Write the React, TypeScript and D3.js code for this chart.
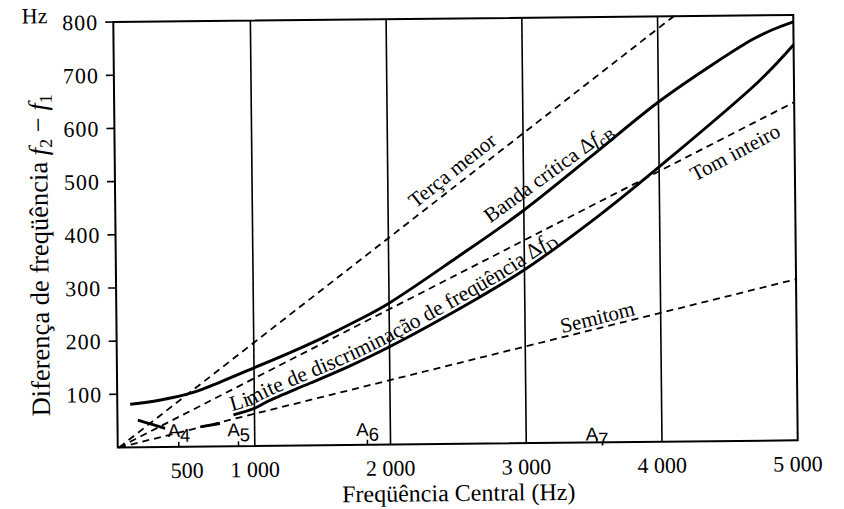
import React from "react";
import * as d3 from "d3";

// values
const yTicks = [100, 200, 300, 400, 500, 600, 700, 800];
const xTickLabels = [500, 1000, 2000, 3000, 4000, 5000];
const gridFreqs = [1000, 2000, 3000, 4000];
const noteFreqs = [440, 880, 1830, 3520];
const noteNumbers = ["4", "5", "6", "7"];

// critical band, solid
const bandaCritica: [number, number][] = [
  [85, 81], [300, 88], [550, 102], [750, 121], [1000, 147], [1250, 173],
  [1500, 201], [1750, 232], [2000, 266], [2500, 350], [3000, 438],
  [3500, 538], [4000, 639], [4400, 708], [4700, 755], [4850, 773], [5000, 787],
];

// discrimination limit, solid, broken around A4 and A5
const discrimA4: [number, number][] = [[140, 51], [240, 43], [340, 35]];
const discrimA5: [number, number][] = [[600, 37], [745, 43]];
const discrim: [number, number][] = [
  [845, 59], [1000, 71], [1100, 84], [1410, 117], [1700, 148], [2000, 184],
  [2670, 276], [3000, 326], [3560, 428], [4000, 517], [4750, 678], [5000, 744],
];

// musical intervals, dashed
const tercaMenor: [number, number][] = [[0, 0], [4120, 800]];
const tomInteiro: [number, number][] = [[0, 0], [5000, 636]];
const semitom: [number, number][] = [[0, 0], [5000, 303]];

const W = 844;
const H = 509;
const left = 115.5;
const right = 795.5;
const top = 18.5;
const bottom = 443.9;
const serif = "'Liberation Serif', 'Times New Roman', serif";
const sans = "'Liberation Sans', Arial, sans-serif";
const noteLift = [10, 10, 9, 2];

const fmt = (v: number) => d3.format(",")(v).replace(",", "\u00a0");

export default function App() {
  const x = d3.scaleLinear().domain([-10, 5000]).range([left, right]);
  const y = d3.scaleLinear().domain([0, 800]).range([bottom, top]);

  const smooth = d3
    .line<[number, number]>()
    .x((d) => x(d[0]))
    .y((d) => y(d[1]))
    .curve(d3.curveCatmullRom.alpha(0.5));
  const straight = d3
    .line<[number, number]>()
    .x((d) => x(d[0]))
    .y((d) => y(d[1]));

  const dashed = { fill: "none", stroke: "#000", strokeWidth: 1.8, strokeDasharray: "7 5" };
  const solid = { fill: "none", stroke: "#000", strokeWidth: 2.9 };

  const labels = [
    { text: "Terça menor", f: 2474, v: 515, angle: -38 },
    { text: "Semitom", f: 3533, v: 236, angle: -13.4 },
    { text: "Tom inteiro", f: 4560, v: 543, angle: -27.4 },
  ];

  return (
    <svg
      width={W}
      height={H}
      style={{ position: "absolute", left: 0, top: 0, background: "#fff" }}
    >
      <g transform="rotate(-0.6, 455.5, 231.2)" fontFamily={serif} fill="#000">
        {/* frame and grid */}
        <rect
          x={left}
          y={top}
          width={right - left}
          height={bottom - top}
          fill="none"
          stroke="#000"
          strokeWidth={2}
        />
        {gridFreqs.map((f) => (
          <line key={f} x1={x(f)} x2={x(f)} y1={y(0)} y2={y(800)} stroke="#000" strokeWidth={1.6} />
        ))}

        {/* y axis */}
        {yTicks.map((v) => (
          <g key={v}>
            <line x1={left - 8} x2={left} y1={y(v)} y2={y(v)} stroke="#000" strokeWidth={1.6} />
            <text x={left - 15} y={y(v)} dy="0.35em" textAnchor="end" fontSize={22} letterSpacing={1}>
              {v}
            </text>
          </g>
        ))}
        <text x={24} y={19} fontSize={22}>Hz</text>
        <text transform={`translate(48, 251) rotate(-90)`} textAnchor="middle" fontSize={26.5}>
          Diferença de freqüência <tspan fontStyle="italic">f</tspan>
          <tspan fontSize={18} dy={5}>2</tspan>
          <tspan dy={-5}> − </tspan>
          <tspan fontStyle="italic">f</tspan>
          <tspan fontSize={18} dy={5}>1</tspan>
        </text>

        {/* x axis */}
        {xTickLabels.map((f) => (
          <text key={f} x={x(f)} y={bottom + 31} textAnchor="middle" fontSize={22}>
            {fmt(f)}
          </text>
        ))}
        <text x={456} y={501} textAnchor="middle" fontSize={24}>
          Freqüência Central (Hz)
        </text>
        {noteFreqs.map((f, i) => (
          <g key={f}>
            <line x1={x(f)} x2={x(f)} y1={bottom} y2={bottom - 5} stroke="#000" strokeWidth={1.5} />
            <text x={x(f) - 11} y={bottom - noteLift[i]} fontFamily={sans} fontSize={18.5}>
              A<tspan dy={5}>{noteNumbers[i]}</tspan>
            </text>
          </g>
        ))}

        {/* interval lines */}
        <path d={straight(tercaMenor) ?? ""} {...dashed} />
        <path d={straight(tomInteiro) ?? ""} {...dashed} />
        <path d={straight(semitom) ?? ""} {...dashed} />

        {/* curves */}
        <path d={smooth(bandaCritica) ?? ""} {...solid} />
        <path d={smooth(discrimA4) ?? ""} {...solid} />
        <path d={smooth(discrimA5) ?? ""} {...solid} />
        <path id="discrimPath" d={smooth(discrim) ?? ""} {...solid} />

        {/* labels */}
        {labels.map((l) => (
          <text
            key={l.text}
            transform={`translate(${x(l.f)}, ${y(l.v)}) rotate(${l.angle})`}
            textAnchor="middle"
            dy="0.35em"
            fontSize={21}
          >
            {l.text}
          </text>
        ))}
        <text
          transform={`translate(${x(3181)}, ${y(509)}) rotate(-35.4)`}
          textAnchor="middle"
          dy="0.35em"
          fontSize={21}
        >
          Banda crítica Δ<tspan fontStyle="italic">f</tspan>
          <tspan fontSize={16} dy={5}>cB</tspan>
        </text>
        <text fontSize={21.6} dy={-4}>
          <textPath href="#discrimPath" startOffset={0}>
            Limite de discriminação de freqüência Δ<tspan fontStyle="italic">f</tspan>
            <tspan fontSize={16} dy={5}>D</tspan>
          </textPath>
        </text>
      </g>
    </svg>
  );
}
